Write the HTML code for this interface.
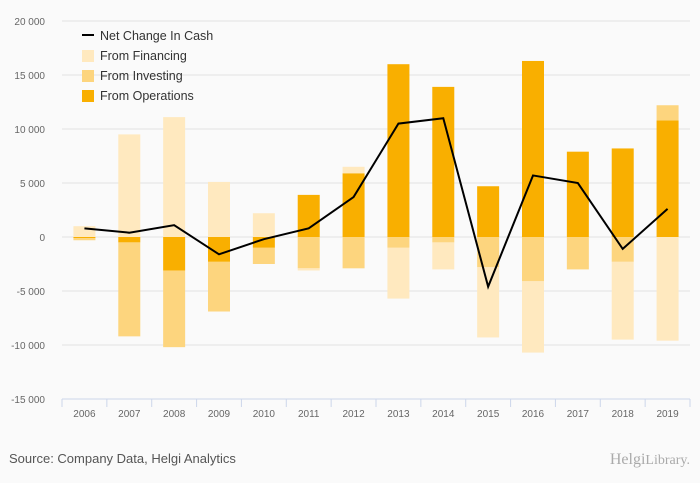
<!DOCTYPE html>
<html><head><meta charset="utf-8"><style>
body{margin:0;background:#fafafa;}
svg{display:block;font-family:"Liberation Sans",sans-serif;}
</style></head><body>
<svg id="c" width="700" height="483">
<rect width="700" height="483" fill="#fafafa"/>
<g id="grid"></g><g id="bars"></g><g id="line"></g><g id="axes"></g>
<g>
<line x1="82" y1="35" x2="94" y2="35" stroke="#000" stroke-width="2"/>
<text x="100" y="40" font-size="12.5" fill="#333">Net Change In Cash</text>
<rect x="82" y="50" width="12" height="12" fill="#FFE9BF"/>
<text x="100" y="60" font-size="12.5" fill="#333">From Financing</text>
<rect x="82" y="70" width="12" height="12" fill="#FDD57E"/>
<text x="100" y="80" font-size="12.5" fill="#333">From Investing</text>
<rect x="82" y="90" width="12" height="12" fill="#F9AF00"/>
<text x="100" y="100" font-size="12.5" fill="#333">From Operations</text>
</g>
<text x="9" y="463" font-size="13" fill="#555">Source: Company Data, Helgi Analytics</text>
<text x="690" y="464" font-size="16" fill="#aaa" text-anchor="end" font-family="Liberation Serif,serif">Helgi<tspan font-size="14">Library.</tspan></text>
</svg>
<script>
const categories=["2006","2007","2008","2009","2010","2011","2012","2013","2014","2015","2016","2017","2018","2019"];
const operations=[-100,-500,-3100,-2300,-1000,3900,5900,16000,13900,4700,16300,7900,8200,10800];
const investing=[-200,-8700,-7100,-4600,-1500,-2900,-2900,-1000,-500,-2800,-4100,-3000,-2300,1400];
const financing=[1000,9500,11100,5100,2200,-200,600,-4700,-2500,-6500,-6600,0,-7200,-9600];
const netChange=[800,400,1100,-1600,-200,800,3700,10500,11000,-4600,5700,5000,-1100,2600];
const yTicks=[20000,15000,10000,5000,0,-5000,-10000,-15000];
const NS="http://www.w3.org/2000/svg";
const x0=62,x1=690,yTop=21,yBot=399,vMax=20000,vMin=-15000;
const bw=(x1-x0)/categories.length;
function y(v){return yTop+(vMax-v)/(vMax-vMin)*(yBot-yTop);}
function xc(i){return x0+bw*(i+0.5);}
function mk(tag,attrs,parent){const e=document.createElementNS(NS,tag);for(const k in attrs)e.setAttribute(k,attrs[k]);document.getElementById(parent).appendChild(e);return e;}
yTicks.forEach(t=>{
  if(t!==vMin){const g=mk('line',{x1:x0,x2:x1,y1:y(t),y2:y(t),stroke:'#e3e3e3','stroke-width':1},'grid');
  
  }
  const l=mk('text',{x:45,y:y(t)+4,'font-size':10,fill:'#666','text-anchor':'end'},'axes');
  l.textContent=t.toLocaleString('en-US').replace(/,/g,' ');
  
  
});
const ax=mk('line',{x1:x0,x2:x1,y1:yBot,y2:yBot,stroke:'#ccd6eb'},'axes');


for(let i=0;i<=categories.length;i++){const tk=mk('line',{x1:x0+bw*i,x2:x0+bw*i,y1:yBot,y2:yBot+8,stroke:'#ccd6eb'},'axes');

}
const series=[[operations,'#F9AF00','operations'],[investing,'#FDD57E','investing'],[financing,'#FFE9BF','financing']];
categories.forEach((c,i)=>{
  const lb=mk('text',{x:xc(i),y:417,'font-size':10,fill:'#666','text-anchor':'middle'},'axes');
  lb.textContent=c;
  
  
  let pos=0,neg=0;
  series.forEach(([arr,col,nm])=>{
    const v=arr[i];let a,b;
    if(v>=0){a=pos;b=pos+v;pos=b;}else{a=neg;b=neg+v;neg=b;}
    const r=mk('rect',{x:xc(i)-11,width:22,y:Math.min(y(a),y(b)),height:Math.abs(y(a)-y(b)),fill:col},'bars');
    
    
  });
});
const p=mk('polyline',{points:netChange.map((v,i)=>xc(i)+','+y(v)).join(' '),fill:'none',stroke:'#000','stroke-width':2},'line');


</script>
</body></html>
